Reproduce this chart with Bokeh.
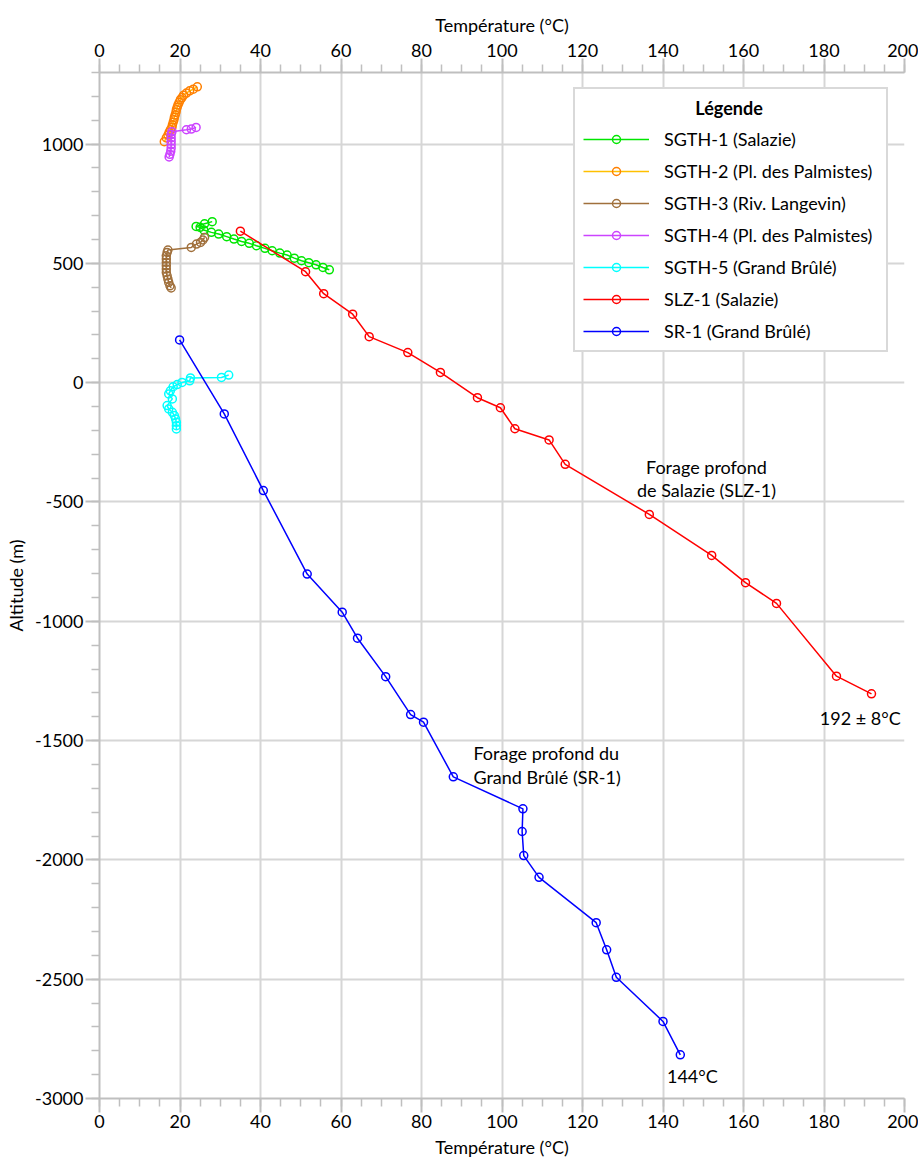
from bokeh.plotting import figure
from bokeh.models import (ColumnDataSource, LinearAxis, SingleIntervalTicker, Range1d,
                          Legend, LegendItem, NumeralTickFormatter)
from bokeh.core.properties import value
from bokeh.embed import file_html
from bokeh.resources import INLINE

FONT = "Lato"

# ---------------- data ----------------
sgth1_t = [28.0, 26.1, 24.0, 25.0, 25.9, 27.8, 29.6, 31.6, 33.4, 35.3, 37.2, 39.0, 41.1, 42.9,
           44.8, 46.6, 48.4, 50.2, 52.0, 53.8, 55.5, 57.1]
sgth1_z = [675, 666, 655, 651, 640, 630, 623, 612, 602, 592, 584, 574, 563, 553,
           543, 535, 522, 511, 503, 494, 483, 473]

sgth2_t = [24.3, 23.3, 22.4, 21.6, 20.9, 20.5, 20.1, 19.8, 19.5, 19.3, 19.1, 19.0, 18.8, 18.6,
           18.5, 18.3, 18.1, 18.0, 17.6, 17.3, 17.0, 16.6, 16.1]
sgth2_z = [1240, 1230, 1223, 1214, 1205, 1195, 1186, 1175, 1164, 1154, 1144, 1133, 1122, 1112,
           1102, 1091, 1080, 1070, 1060, 1049, 1038, 1026, 1010]

sgth3_t = [26.1, 25.7, 25.1, 24.1, 22.8, 17.0, 16.8, 16.6, 16.6, 16.6, 16.6, 16.6, 16.6, 16.8,
           17.0, 17.2, 17.5, 17.8]
sgth3_z = [609, 598, 588, 581, 567, 556, 546, 532, 518, 504, 490, 476, 462, 448,
           434, 420, 406, 397]

sgth4_t = [24.0, 22.8, 21.6, 18.0, 17.8, 17.8, 17.8, 17.8, 17.8, 17.7, 17.5, 17.3]
sgth4_z = [1070, 1063, 1060, 1052, 1040, 1026, 1012, 998, 984, 970, 957, 946]

sgth5_t = [32.1, 30.3, 22.6, 22.4, 20.5, 19.3, 18.3, 17.6, 17.2, 18.1, 16.8, 17.2, 18.1, 18.6,
           18.9, 19.1, 19.1, 19.1]
sgth5_z = [32, 22, 20, 8, 1, -8, -17, -34, -47, -68, -96, -110, -124, -138,
           -152, -166, -180, -194]

slz1_t = [35.0, 51.2, 55.7, 62.9, 67.0, 76.6, 84.7, 93.9, 99.6, 103.2, 111.7, 115.7, 136.6,
          152.1, 160.5, 168.2, 183.1, 191.8]
slz1_z = [635, 465, 373, 287, 193, 126, 43, -63, -105, -193, -240, -342, -552,
          -724, -838, -925, -1230, -1304]

sr1_t = [19.9, 31.0, 40.7, 51.6, 60.3, 64.1, 71.1, 77.3, 80.5, 87.9, 105.2, 105.0, 105.4,
         109.2, 123.4, 126.0, 128.4, 140.0, 144.3]
sr1_z = [179, -131, -452, -802, -962, -1071, -1232, -1391, -1423, -1652, -1786, -1881, -1982,
         -2073, -2263, -2377, -2492, -2677, -2817]

series_names = ["SGTH-1 (Salazie)", "SGTH-2 (Pl. des Palmistes)", "SGTH-3 (Riv. Langevin)",
                "SGTH-4 (Pl. des Palmistes)", "SGTH-5 (Grand Brûlé)", "SLZ-1 (Salazie)",
                "SR-1 (Grand Brûlé)"]
legend_title = "Légende"

x_ticks_interval = 20
y_ticks_interval = 500

annot_text = ["Forage profond", "de Salazie (SLZ-1)", "Forage profond du", "Grand Brûlé (SR-1)",
              "192 ± 8°C", "144°C"]
annot_x = [150.8, 150.8, 92.9, 92.9, 189.0, 147.3]
annot_y = [-352, -448, -1554, -1651, -1404, -2904]
annot_align = ["center", "center", "left", "left", "center", "center"]

# ---------------- styles ----------------
line_colors = ["#00e600", "#ffc000", "#a0703c", "#cc44ff", "#00ffff", "#ff0000", "#0000ff"]
marker_colors = ["#00e600", "#ff8000", "#a0703c", "#cc44ff", "#00ffff", "#ff0000", "#0000ff"]

p = figure(width=918, height=1160, output_backend="svg", toolbar_location=None,
           x_range=Range1d(0, 200), y_range=Range1d(-3000, 1300),
           min_border_left=99, min_border_right=14, min_border_top=72, min_border_bottom=62,
           x_axis_location="below")
p.outline_line_color = None
p.background_fill_color = "white"

xt = SingleIntervalTicker(interval=x_ticks_interval, num_minor_ticks=4)
yt = SingleIntervalTicker(interval=y_ticks_interval, num_minor_ticks=5)
p.xaxis.ticker = xt
p.yaxis.ticker = yt
p.yaxis.formatter = NumeralTickFormatter(format="0")
p.xgrid.ticker = xt
p.ygrid.ticker = yt
for g in (p.xgrid, p.ygrid):
    g.grid_line_color = "#d6d6d6"
    g.grid_line_width = 2

top_axis = LinearAxis(ticker=xt)
p.add_layout(top_axis, "above")

p.xaxis.axis_label = "Température (°C)"
p.yaxis.axis_label = "Altitude (m)"
for ax in p.xaxis + p.yaxis:
    ax.axis_line_color = "#bfbfbf"
    ax.axis_line_width = 2
    ax.major_tick_line_color = "#bfbfbf"
    ax.minor_tick_line_color = "#bfbfbf"
    ax.major_tick_line_width = 2
    ax.minor_tick_line_width = 1.5
    ax.major_tick_in = 0
    ax.major_tick_out = 14
    ax.minor_tick_in = 0
    ax.minor_tick_out = 8
    ax.major_label_text_font = FONT
    ax.major_label_text_font_size = "18px"
    ax.major_label_text_color = "black"
    ax.axis_label_text_font = FONT
    ax.axis_label_text_font_size = "18px"
    ax.axis_label_text_font_style = "normal"
    ax.axis_label_text_color = "black"
    ax.major_label_standoff = 2
    ax.axis_label_standoff = 5

all_t = [sgth1_t, sgth2_t, sgth3_t, sgth4_t, sgth5_t, slz1_t, sr1_t]
all_z = [sgth1_z, sgth2_z, sgth3_z, sgth4_z, sgth5_z, slz1_z, sr1_z]

items = []
for name, t, z, lc, mc in zip(series_names, all_t, all_z, line_colors, marker_colors):
    src = ColumnDataSource(dict(t=t, z=z))
    r1 = p.line("t", "z", source=src, line_color=lc, line_width=1.5)
    r2 = p.scatter("t", "z", source=src, marker="circle", size=8, fill_color=None,
                   line_color=mc, line_width=1.5)
    items.append(LegendItem(label=name, renderers=[r1, r2]))

# em-space indent to centre the title inside the legend box
title_indent = "\u2003" * 8 + "\u00a0"
legend = Legend(items=items, location=(474, 746), title=title_indent + legend_title,
                title_text_font=FONT, title_text_font_size="18px", title_text_font_style="bold",
                title_text_color="black", title_standoff=9,
                label_text_font=FONT, label_text_font_size="18px", label_text_color="black",
                glyph_width=66, glyph_height=20, label_height=20, label_width=214, spacing=10,
                label_standoff=15, padding=8, margin=0,
                border_line_color="#b4b4b4", border_line_width=2,
                background_fill_color="white", background_fill_alpha=1.0)
p.add_layout(legend, "center")

asrc = ColumnDataSource(dict(x=annot_x, y=annot_y, text=annot_text, align=annot_align))
p.text("x", "y", text="text", source=asrc, text_align="align", text_baseline="middle",
       text_font=value(FONT), text_font_size="18px", text_color="black")

open("out.html", "w").write(file_html(p, INLINE))
